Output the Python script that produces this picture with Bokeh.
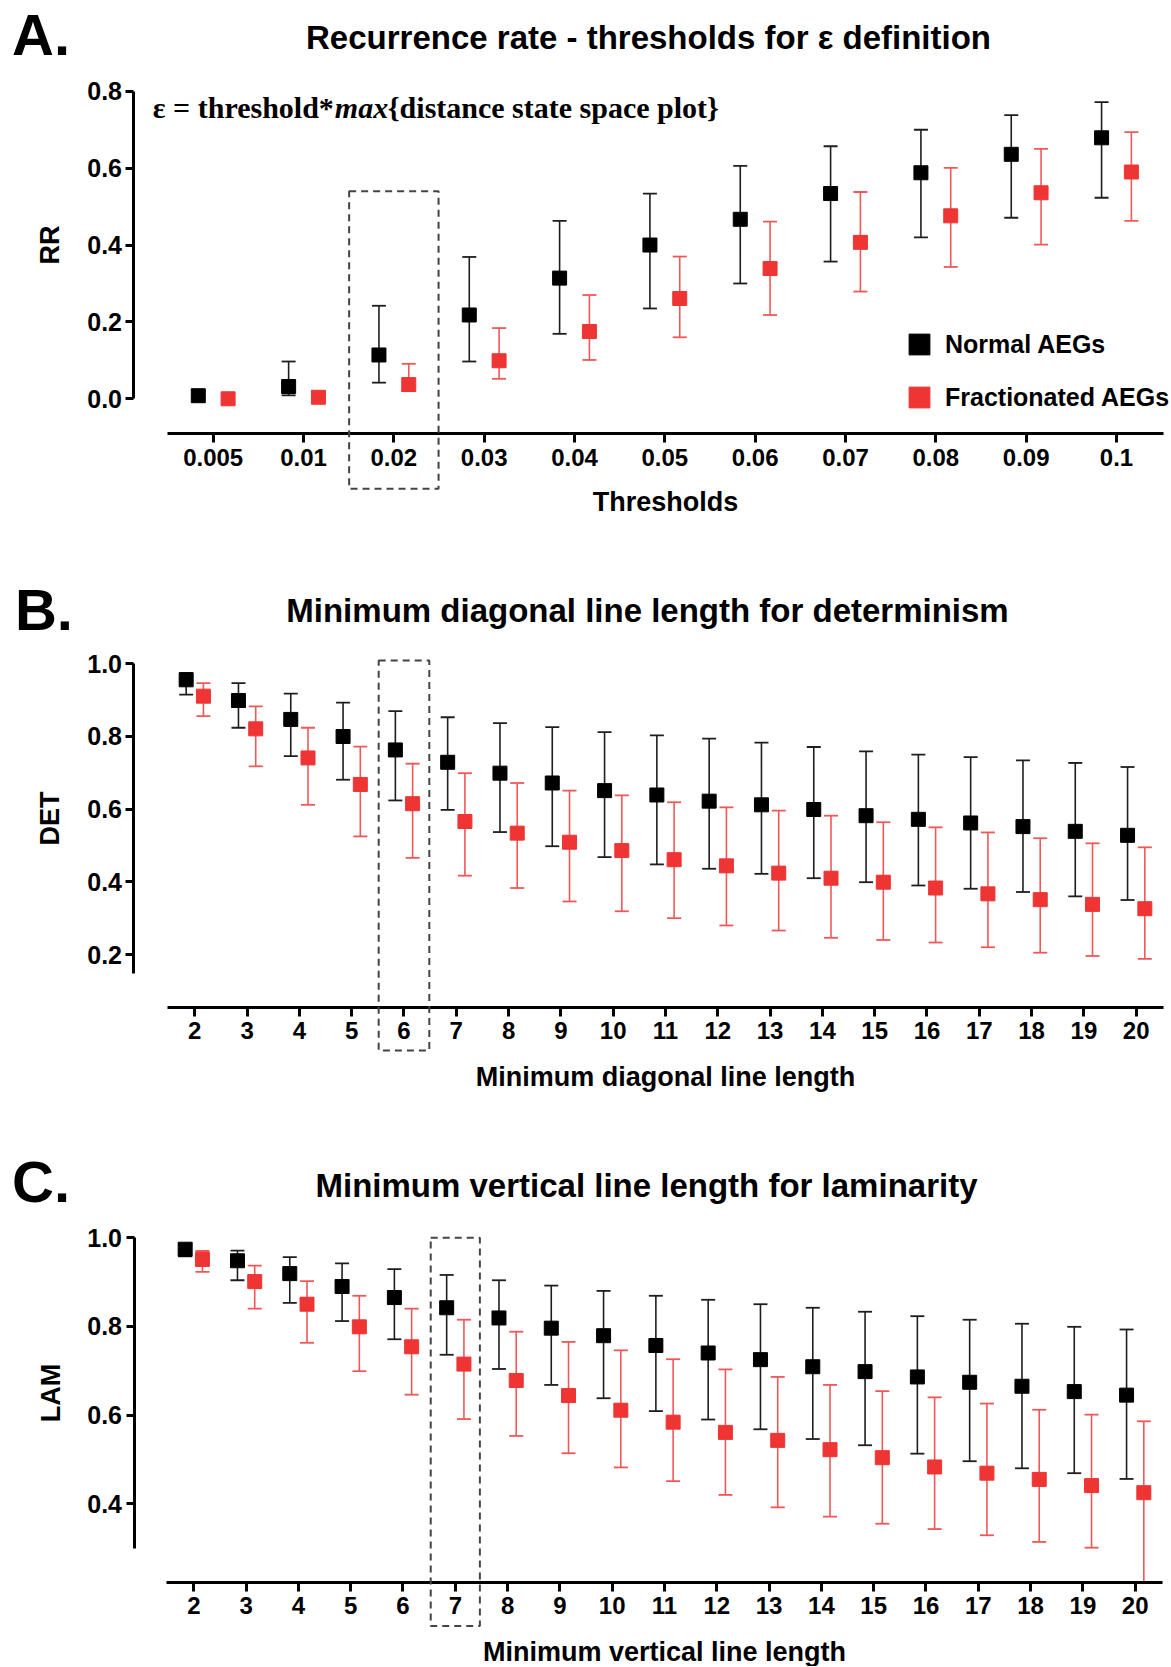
import math
from bokeh.plotting import figure
from bokeh.models import (ColumnDataSource, FixedTicker, Label, BoxAnnotation,
                          Legend, LegendItem, Range1d)
from bokeh.transform import dodge
from bokeh.layouts import column
from bokeh.embed import file_html
from bokeh.resources import INLINE

# ---------------- Panel A data ----------------
thresholds = ["0.005", "0.01", "0.02", "0.03", "0.04", "0.05", "0.06", "0.07", "0.08", "0.09", "0.1"]
rr_normal_mean = [0.008, 0.032, 0.114, 0.218, 0.314, 0.400, 0.467, 0.534, 0.588, 0.636, 0.679]
rr_normal_low = [0.002, 0.009, 0.042, 0.097, 0.169, 0.235, 0.300, 0.357, 0.420, 0.471, 0.523]
rr_normal_high = [0.022, 0.097, 0.242, 0.369, 0.463, 0.534, 0.606, 0.657, 0.700, 0.738, 0.772]
rr_frac_mean = [0.000, 0.004, 0.037, 0.099, 0.175, 0.261, 0.339, 0.407, 0.476, 0.536, 0.590]
rr_frac_low = [0.000, 0.001, 0.020, 0.052, 0.101, 0.160, 0.218, 0.279, 0.343, 0.401, 0.463]
rr_frac_high = [0.004, 0.010, 0.091, 0.184, 0.270, 0.370, 0.461, 0.538, 0.601, 0.650, 0.694]

# ---------------- Panel B data ----------------
min_diag = list(range(2, 21))
det_normal_mean = [0.956, 0.899, 0.847, 0.800, 0.763, 0.729, 0.699, 0.672, 0.651, 0.639,
                   0.622, 0.612, 0.599, 0.582, 0.572, 0.562, 0.552, 0.539, 0.528]
det_normal_low = [0.915, 0.824, 0.746, 0.681, 0.624, 0.598, 0.537, 0.498, 0.468, 0.448,
                  0.436, 0.422, 0.410, 0.399, 0.390, 0.381, 0.372, 0.360, 0.350]
det_normal_high = [0.975, 0.947, 0.918, 0.893, 0.870, 0.853, 0.837, 0.826, 0.812, 0.803,
                   0.794, 0.783, 0.771, 0.759, 0.750, 0.743, 0.734, 0.727, 0.716]
det_frac_mean = [0.911, 0.821, 0.741, 0.668, 0.615, 0.566, 0.534, 0.509, 0.486, 0.461,
                 0.444, 0.424, 0.410, 0.399, 0.383, 0.367, 0.351, 0.338, 0.326]
det_frac_low = [0.856, 0.718, 0.612, 0.525, 0.466, 0.417, 0.383, 0.346, 0.319, 0.300,
                0.280, 0.266, 0.246, 0.240, 0.233, 0.220, 0.205, 0.196, 0.188]
det_frac_high = [0.947, 0.883, 0.824, 0.772, 0.725, 0.699, 0.672, 0.651, 0.638, 0.619,
                 0.605, 0.596, 0.582, 0.564, 0.550, 0.536, 0.520, 0.506, 0.495]

# ---------------- Panel C data ----------------
min_vert = list(range(2, 21))
lam_normal_mean = [0.974, 0.948, 0.919, 0.890, 0.865, 0.842, 0.819, 0.796, 0.779, 0.757,
                   0.740, 0.725, 0.709, 0.698, 0.686, 0.674, 0.665, 0.653, 0.645]
lam_normal_low = [0.958, 0.904, 0.853, 0.812, 0.771, 0.736, 0.704, 0.668, 0.638, 0.609,
                  0.590, 0.568, 0.546, 0.532, 0.513, 0.496, 0.480, 0.469, 0.456]
lam_normal_high = [0.985, 0.971, 0.956, 0.942, 0.929, 0.916, 0.904, 0.892, 0.880, 0.869,
                   0.860, 0.850, 0.842, 0.833, 0.823, 0.815, 0.806, 0.799, 0.793]
lam_frac_mean = [0.951, 0.901, 0.850, 0.799, 0.754, 0.715, 0.678, 0.644, 0.611, 0.584,
                 0.561, 0.543, 0.522, 0.504, 0.483, 0.469, 0.455, 0.441, 0.425]
lam_frac_low = [0.923, 0.840, 0.763, 0.699, 0.646, 0.591, 0.553, 0.514, 0.482, 0.451,
                0.420, 0.392, 0.371, 0.355, 0.343, 0.329, 0.314, 0.301, 0.200]
lam_frac_high = [0.970, 0.937, 0.902, 0.869, 0.840, 0.815, 0.788, 0.765, 0.746, 0.726,
                 0.703, 0.686, 0.668, 0.654, 0.640, 0.626, 0.612, 0.601, 0.586]

NORMAL_LABEL = "Normal AEGs"
FRAC_LABEL = "Fractionated AEGs"

BLACK = "#000000"
BLACK_BAR = "#1e1e1e"
RED = "#ef3434"
RED_BAR = "#f05858"
BOX = "#444444"
SANS = "Liberation Sans"
SERIF = "Liberation Serif"
OFF = 0.165
FIG_W = 1170


def txt(p, x, y, text, size, font=SANS, style="bold", align="left", x_offset=0):
    p.add_layout(Label(x=x, y=y, x_offset=x_offset, text=text, text_font=font,
                       text_font_style=style, text_font_size=size, text_color="black",
                       text_align=align, text_baseline="alphabetic"))


def make_panel(xs, xlabels, nm, nl, nh, fm, fl, fh, *, ylabel, xlabel, height,
               x_range, y_range, yaxis_x, xaxis_y, x_bounds, y_bounds, yticks,
               xlabel_standoff):
    p = figure(width=FIG_W, height=height,
               x_range=Range1d(*x_range), y_range=Range1d(*y_range),
               output_backend="svg", toolbar_location=None,
               min_border_left=0, min_border_right=0,
               min_border_top=0, min_border_bottom=0)
    p.outline_line_color = None
    p.grid.visible = False
    p.background_fill_color = "white"
    p.border_fill_color = "white"

    # emulate clipping of error bars at the offset x axis (as in the original)
    fl_vis = [max(v, xaxis_y) for v in fl]
    fl_cap = [v if v >= xaxis_y else math.nan for v in fl]
    nl_vis = [max(v, xaxis_y) for v in nl]
    nl_cap = [v if v >= xaxis_y else math.nan for v in nl]
    src = ColumnDataSource(dict(x=xs, nm=nm, nl=nl_vis, nlc=nl_cap, nh=nh,
                                fm=fm, fl=fl_vis, flc=fl_cap, fh=fh))
    xn = dodge("x", -OFF)
    xf = dodge("x", OFF)
    p.segment(x0=xn, y0="nl", x1=xn, y1="nh", source=src, line_color=BLACK_BAR, line_width=1.6)
    p.scatter(x=xn, y="nlc", source=src, marker="dash", size=14, line_color=BLACK_BAR, line_width=1.8)
    p.scatter(x=xn, y="nh", source=src, marker="dash", size=14, line_color=BLACK_BAR, line_width=1.8)
    p.segment(x0=xf, y0="fl", x1=xf, y1="fh", source=src, line_color=RED_BAR, line_width=1.6)
    p.scatter(x=xf, y="flc", source=src, marker="dash", size=14, line_color=RED_BAR, line_width=1.8)
    p.scatter(x=xf, y="fh", source=src, marker="dash", size=14, line_color=RED_BAR, line_width=1.8)
    rn = p.scatter(x=xn, y="nm", source=src, marker="square", size=14,
                   fill_color=BLACK, line_color=BLACK)
    rf = p.scatter(x=xf, y="fm", source=src, marker="square", size=14,
                   fill_color=RED, line_color=RED)

    for ax in (p.xaxis[0], p.yaxis[0]):
        ax.axis_line_width = 3
        ax.axis_line_color = "black"
        ax.major_tick_line_width = 3
        ax.major_tick_line_color = "black"
        ax.major_tick_in = 0
        ax.minor_tick_line_color = None
        ax.major_label_text_font = SANS
        ax.major_label_text_font_style = "bold"
        ax.major_label_text_color = "black"
        ax.axis_label_text_font = SANS
        ax.axis_label_text_font_style = "bold"
        ax.axis_label_text_font_size = "27px"
        ax.axis_label_text_color = "black"

    xa = p.xaxis[0]
    xa.fixed_location = xaxis_y
    xa.ticker = FixedTicker(ticks=xs)
    xa.major_label_overrides = {x: l for x, l in zip(xs, xlabels)}
    xa.bounds = x_bounds
    xa.major_tick_out = 9
    xa.major_label_standoff = 6
    xa.major_label_text_font_size = "24px"
    xa.axis_label = xlabel
    xa.axis_label_standoff = xlabel_standoff

    ya = p.yaxis[0]
    ya.fixed_location = yaxis_x
    ya.ticker = FixedTicker(ticks=yticks)
    ya.major_label_overrides = {t: f"{t:.1f}" for t in yticks}
    ya.bounds = y_bounds
    ya.major_tick_out = 8
    ya.major_label_standoff = 4
    ya.major_label_text_font_size = "25px"
    ya.axis_label = ylabel
    ya.axis_label_standoff = 19
    return p, rn, rf


# ---------------- Panel A ----------------
xa_idx = list(range(len(thresholds)))
pA, rnA, rfA = make_panel(
    xa_idx, thresholds, rr_normal_mean, rr_normal_low, rr_normal_high,
    rr_frac_mean, rr_frac_low, rr_frac_high,
    ylabel="RR", xlabel="Thresholds", height=560,
    x_range=(-2.3547, 10.598), y_range=(-0.4207, 1.0362),
    yaxis_x=-0.8768, xaxis_y=-0.0903, x_bounds=(-0.506, 10.517), y_bounds=(0.0, 0.8),
    yticks=[0.0, 0.2, 0.4, 0.6, 0.8], xlabel_standoff=18)

pA.add_layout(BoxAnnotation(left=1.505, right=2.495, top=0.540, bottom=-0.2341,
                            fill_color=None, fill_alpha=0, line_color=BOX, line_alpha=1,
                            line_width=2, line_dash="7 5"))
txt(pA, -2.2274, 0.9490, "A.", "58px")
txt(pA, 4.819, 0.9394, "Recurrence rate - thresholds for \u03b5 definition", "33px", align="center")
ann_x, ann_y = -0.6687, 0.7570
txt(pA, ann_x, ann_y, "\u03b5 = threshold*", "30px", font=SERIF)
txt(pA, ann_x, ann_y, "max", "30px", font=SERIF, style="bold italic", x_offset=182)
txt(pA, ann_x, ann_y, "{distance state space plot}", "30px", font=SERIF, x_offset=235)

legend = Legend(items=[LegendItem(label=NORMAL_LABEL, renderers=[rnA]),
                       LegendItem(label=FRAC_LABEL, renderers=[rfA])],
                location=(893, 137), glyph_width=52, glyph_height=52, spacing=1,
                padding=0, margin=0, border_line_color=None, background_fill_alpha=0,
                label_text_font=SANS, label_text_font_size="25px",
                label_text_font_style="bold", label_text_color="black", label_standoff=-6)
pA.add_layout(legend)

# ---------------- Panel B ----------------
pB, _, _ = make_panel(
    min_diag, [str(v) for v in min_diag], det_normal_mean, det_normal_low, det_normal_high,
    det_frac_mean, det_frac_low, det_frac_high,
    ylabel="DET", xlabel="Minimum diagonal line length", height=570,
    x_range=(-1.715, 20.656), y_range=(-0.2843, 1.2843),
    yaxis_x=0.8375, xaxis_y=0.0555, x_bounds=(1.47, 20.52), y_bounds=(0.147, 1.0),
    yticks=[0.2, 0.4, 0.6, 0.8, 1.0], xlabel_standoff=19)
pB.add_layout(BoxAnnotation(left=5.516, right=6.484, top=1.009, bottom=-0.0642,
                            fill_color=None, fill_alpha=0, line_color=BOX, line_alpha=1,
                            line_width=2, line_dash="7 5"))
txt(pB, -1.438, 1.1508, "B.", "58px")
txt(pB, 10.656, 1.1461, "Minimum diagonal line length for determinism", "33px", align="center")

# ---------------- Panel C ----------------
pC, _, _ = make_panel(
    min_vert, [str(v) for v in min_vert], lam_normal_mean, lam_normal_low, lam_normal_high,
    lam_frac_mean, lam_frac_low, lam_frac_high,
    ylabel="LAM", xlabel="Minimum vertical line length", height=536,
    x_range=(-1.696, 20.675), y_range=(0.0331, 1.2417),
    yaxis_x=0.8566, xaxis_y=0.2234, x_bounds=(1.47, 20.52), y_bounds=(0.299, 1.0),
    yticks=[0.4, 0.6, 0.8, 1.0], xlabel_standoff=19)
pC.add_layout(BoxAnnotation(left=6.53, right=7.47, top=1.0, bottom=0.1247,
                            fill_color=None, fill_alpha=0, line_color=BOX, line_alpha=1,
                            line_width=2, line_dash="7 5"))
txt(pC, -1.476, 1.1256, "C.", "58px")
txt(pC, 10.656, 1.1173, "Minimum vertical line length for laminarity", "33px", align="center")

layout = column(pA, pB, pC, spacing=0)
open("out.html", "w").write(file_html(layout, INLINE))
